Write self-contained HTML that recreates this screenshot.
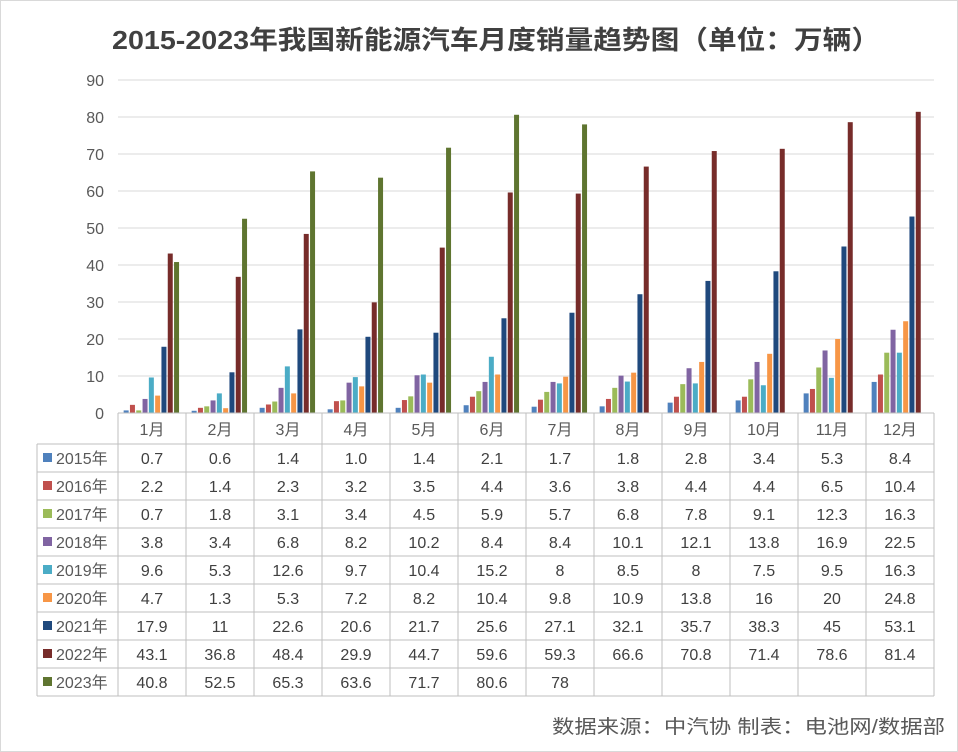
<!DOCTYPE html>
<html><head><meta charset="utf-8">
<style>
body{margin:0;background:#fff;}
svg{display:block;font-family:"Liberation Sans","Noto Sans CJK SC",sans-serif;}
</style></head>
<body>
<svg id="c" width="958" height="752">
<rect x="0.5" y="0.5" width="957" height="751" fill="#fff" stroke="#d9d9d9"/>
<text x="112" y="49" textLength="768" lengthAdjust="spacingAndGlyphs" font-size="26" font-weight="bold" fill="#404040">2015-2023年我国新能源汽车月度销量趋势图（单位：万辆）</text>
<g id="grid"></g><g id="bars"></g><g id="tbl"></g>
<text x="552" y="733" textLength="393" lengthAdjust="spacingAndGlyphs" font-size="19" fill="#595959">数据来源：中汽协 制表：电池网/数据部</text>
</svg>
<script>
const months=["1月","2月","3月","4月","5月","6月","7月","8月","9月","10月","11月","12月"];
const seriesNames=["2015年","2016年","2017年","2018年","2019年","2020年","2021年","2022年","2023年"];
const s2015=[0.7,0.6,1.4,1.0,1.4,2.1,1.7,1.8,2.8,3.4,5.3,8.4];
const s2016=[2.2,1.4,2.3,3.2,3.5,4.4,3.6,3.8,4.4,4.4,6.5,10.4];
const s2017=[0.7,1.8,3.1,3.4,4.5,5.9,5.7,6.8,7.8,9.1,12.3,16.3];
const s2018=[3.8,3.4,6.8,8.2,10.2,8.4,8.4,10.1,12.1,13.8,16.9,22.5];
const s2019=[9.6,5.3,12.6,9.7,10.4,15.2,8,8.5,8,7.5,9.5,16.3];
const s2020=[4.7,1.3,5.3,7.2,8.2,10.4,9.8,10.9,13.8,16,20,24.8];
const s2021=[17.9,11,22.6,20.6,21.7,25.6,27.1,32.1,35.7,38.3,45,53.1];
const s2022=[43.1,36.8,48.4,29.9,44.7,59.6,59.3,66.6,70.8,71.4,78.6,81.4];
const s2023=[40.8,52.5,65.3,63.6,71.7,80.6,78];
const yTicks=[0,10,20,30,40,50,60,70,80,90];
const series=[s2015,s2016,s2017,s2018,s2019,s2020,s2021,s2022,s2023];
const colors=["#4F81BD","#C0504D","#9BBB59","#8064A2","#4BACC6","#F79646","#1F497D","#772C2A","#5F7530"];
const NS="http://www.w3.org/2000/svg";
const L=118,R=934,Y0=413,Y90=80,cw=(R-L)/12;
const y=v=>Y0-(v/90)*(Y0-Y90);
const x=i=>L+i*cw;
function mk(tag,at,parent,txt){const e=document.createElementNS(NS,tag);for(const k in at)e.setAttribute(k,at[k]);if(txt!=null)e.textContent=txt;parent.appendChild(e);return e;}
const g=document.getElementById('grid'),b=document.getElementById('bars'),t=document.getElementById('tbl');
yTicks.forEach(v=>{
 const l=mk('line',{x1:L,x2:R,y1:y(v),y2:y(v),stroke:'#d9d9d9'},g);
 
 
 const tx=mk('text',{x:104,y:y(v)+6,'text-anchor':'end','font-size':16,fill:'#595959'},g,v);
 
 
});
const bw=5,step=6.3;
series.forEach((s,si)=>{
 s.forEach((v,i)=>{
  const bx=x(i)+cw/2-(9*step)/2+si*step;
  const r=mk('rect',{x:bx,y:y(v),width:bw,height:Y0-y(v),fill:colors[si]},b);
  
  
 });
});
const T0=413,hh=31,rh=28,TL=37;
const lc='#bfbfbf';
const rows=9,TB=T0+hh+rows*rh;
mk('line',{x1:L,x2:R,y1:T0,y2:T0,stroke:lc},t);
mk('line',{x1:TL,x2:R,y1:T0+hh,y2:T0+hh,stroke:lc},t);
for(let r=1;r<=rows;r++)mk('line',{x1:TL,x2:R,y1:T0+hh+r*rh,y2:T0+hh+r*rh,stroke:lc},t);
mk('line',{x1:TL,x2:TL,y1:T0+hh,y2:TB,stroke:lc},t);
for(let i=0;i<=12;i++)mk('line',{x1:x(i),x2:x(i),y1:T0,y2:TB,stroke:lc},t);
months.forEach((m,i)=>{
 const e=mk('text',{x:x(i)+cw/2,y:T0+22,'text-anchor':'middle','font-size':16,fill:'#595959'},t,m);
 
 
});
series.forEach((s,si)=>{
 const cy=T0+hh+si*rh+rh/2;
 mk('rect',{x:43,y:cy-5,width:9,height:9,fill:colors[si]},t);
 const lg=mk('text',{x:56,y:cy+6,'font-size':16,fill:'#595959'},t,seriesNames[si]);
 
 
 s.forEach((v,i)=>{
  const label=si===0?v.toFixed(1):String(v);
  const e=mk('text',{x:x(i)+cw/2,y:cy+6,'text-anchor':'middle','font-size':16,fill:'#404040'},t,label);
  
  
 });
});
</script>
</body></html>
